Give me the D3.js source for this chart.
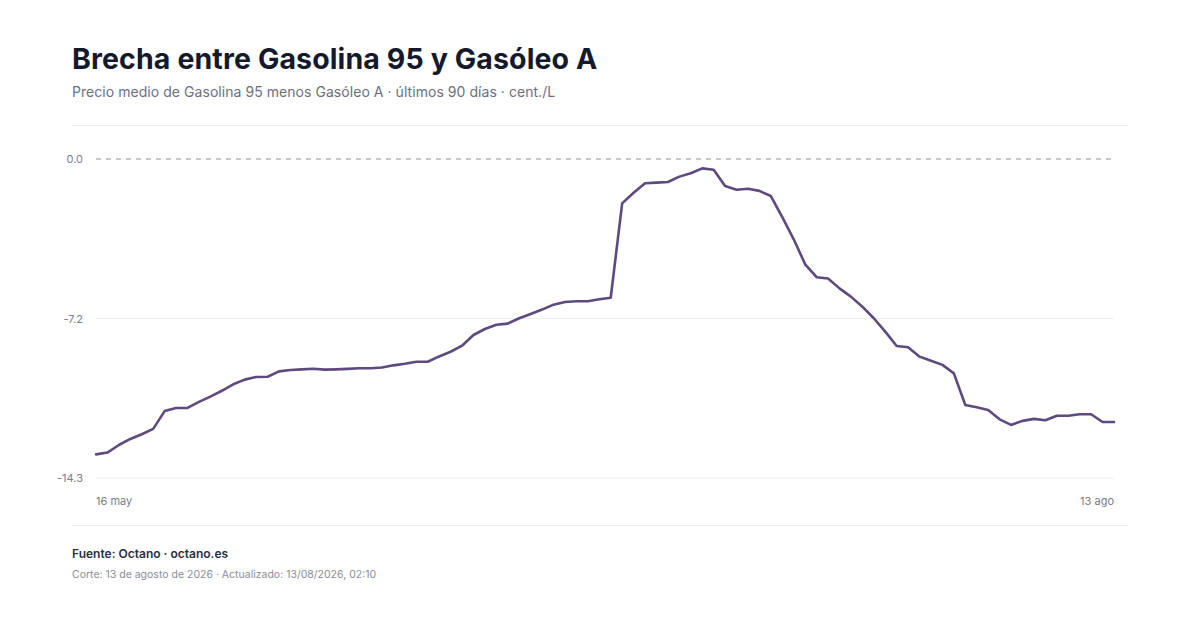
<!DOCTYPE html>
<html><head><meta charset="utf-8">
<script src="https://cdn.jsdelivr.net/npm/d3@7"></script>
<style>
html,body{margin:0;padding:0;background:#fff;}
svg{display:block;font-family:Inter,"Noto Sans",sans-serif;}
</style></head><body>
<svg id="c" width="1200" height="630"></svg>
<script>
const startDate = "2026-05-16";
const xTickLabels = ["16 may", "13 ago"];
const yTickValues = [0, -7.15, -14.3];
const yTickLabels = ["0.0", "-7.2", "-14.3"];
const gapValues = [
 -13.24,-13.16,-12.82,-12.55,-12.34,-12.10,-11.30,-11.16,-11.16,-10.89,
 -10.65,-10.39,-10.10,-9.89,-9.77,-9.76,-9.52,-9.46,-9.43,-9.40,
 -9.44,-9.43,-9.41,-9.38,-9.38,-9.35,-9.25,-9.18,-9.09,-9.09,
 -8.85,-8.64,-8.37,-7.89,-7.62,-7.43,-7.38,-7.14,-6.95,-6.75,
 -6.53,-6.41,-6.38,-6.38,-6.29,-6.22,-1.99,-1.51,-1.09,-1.06,
 -1.03,-0.79,-0.64,-0.42,-0.48,-1.21,-1.38,-1.33,-1.43,-1.66,
 -2.61,-3.60,-4.72,-5.30,-5.36,-5.80,-6.17,-6.62,-7.14,-7.74,
 -8.38,-8.44,-8.86,-9.04,-9.23,-9.61,-11.03,-11.13,-11.25,-11.67,
 -11.92,-11.74,-11.65,-11.71,-11.51,-11.51,-11.44,-11.44,-11.79,-11.79
];

const svg = d3.select("#c");
const t0 = new Date(startDate + "T00:00:00");
const data = gapValues.map((v,i)=>({date:d3.timeDay.offset(t0,i), v}));

const x = d3.scaleTime().domain(d3.extent(data,d=>d.date)).range([96,1114]);
const y = d3.scaleLinear().domain([-14.3,0]).range([478,159]);

// title
svg.append("text").attr("x",72).attr("y",69).attr("font-size",28.5).attr("font-weight",700)
  .attr("fill","#141a2b").attr("letter-spacing","0.12").text("Brecha entre Gasolina 95 y Gasóleo A");
svg.append("text").attr("x",72).attr("y",97).attr("font-size",14).attr("fill","#6b7080").attr("letter-spacing","0.05")
  .text("Precio medio de Gasolina 95 menos Gasóleo A · últimos 90 días · cent./L");

// rules
svg.append("line").attr("x1",72).attr("x2",1128).attr("y1",125.5).attr("y2",125.5).attr("stroke","#ededf0").attr("stroke-width",1.2);
svg.append("line").attr("x1",72).attr("x2",1128).attr("y1",525.5).attr("y2",525.5).attr("stroke","#ededf0").attr("stroke-width",1.2);

// grid
yTickValues.forEach((tv,i)=>{
  const yy = y(tv);
  if (tv===0) {
    svg.append("line").attr("x1",96).attr("x2",1112).attr("y1",yy).attr("y2",yy)
      .attr("stroke","#b6b6c0").attr("stroke-width",1.3).attr("stroke-dasharray","5,5");
  } else {
    svg.append("line").attr("x1",96).attr("x2",1114).attr("y1",yy).attr("y2",yy)
      .attr("stroke","#efeff2").attr("stroke-width",1.2);
  }
  svg.append("text").attr("x",83).attr("y",yy+4).attr("text-anchor","end")
    .attr("font-size",11).attr("fill","#7a7d8a").text(yTickLabels[i]);
});

// x labels
const xd = d3.extent(data,d=>d.date);
svg.append("text").attr("x",x(xd[0])).attr("y",505).attr("font-size",11).attr("fill","#7a7d8a").text(xTickLabels[0]);
svg.append("text").attr("x",x(xd[1])).attr("y",505).attr("text-anchor","end").attr("font-size",11).attr("fill","#7a7d8a").text(xTickLabels[1]);

// line
const line = d3.line().x(d=>x(d.date)).y(d=>y(d.v));
svg.append("path").datum(data).attr("d",line).attr("fill","none")
  .attr("stroke","#5e4a7e").attr("stroke-width",2.6).attr("stroke-linejoin","round").attr("stroke-linecap","round");

// footer
svg.append("text").attr("x",72).attr("y",558).attr("font-size",12).attr("font-weight",600).attr("fill","#2a2f40")
  .text("Fuente: Octano · octano.es");
svg.append("text").attr("x",72).attr("y",578).attr("font-size",10.5).attr("fill","#8a8d98")
  .text("Corte: 13 de agosto de 2026 · Actualizado: 13/08/2026, 02:10");
</script>
</body></html>
